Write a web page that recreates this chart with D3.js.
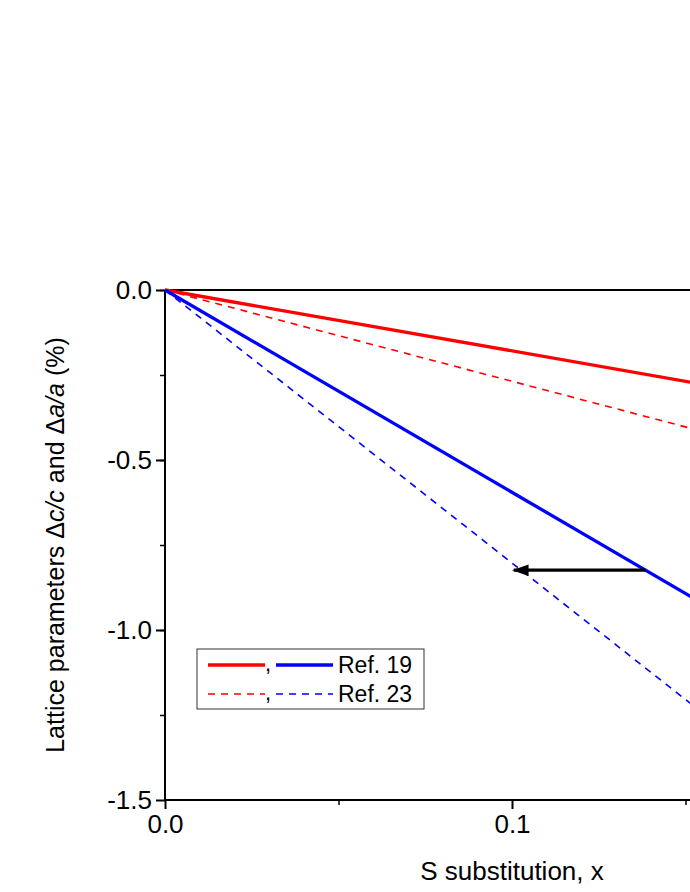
<!DOCTYPE html>
<html><head><meta charset="utf-8">
<script src="https://cdn.jsdelivr.net/npm/d3@7"></script>
<style>body{margin:0;background:#fff}svg{display:block;font-family:"Liberation Sans",Arial,sans-serif}</style>
</head><body><svg id="c" width="690" height="892"></svg>
<script>
// S content and relative lattice change (%)
const xVals = [0, 0.2];
const dcRef19 = [0, -0.358];
const daRef19 = [0, -1.19];
const dcRef23 = [0, -0.537];
const daRef23 = [0, -1.606];
const yTicks = [0, -0.5, -1.0, -1.5];
const xTicks = [0, 0.1];
const arrowPts = [[0.1385, -0.824], [0.1005, -0.824]];

const svg = d3.select("#c");
const x = d3.scaleLinear().domain([0, 0.1]).range([165, 512]);
const y = d3.scaleLinear().domain([0, -1.5]).range([290, 800]);
const fmt = d => d3.format(".1f")(d).replace("\u2212", "-");

svg.append("defs").append("clipPath").attr("id", "clip")
  .append("rect").attr("x", 165).attr("y", 280).attr("width", 600).attr("height", 520);
svg.select("defs").append("marker").attr("id", "ah").attr("viewBox", "0 0 10 10")
  .attr("refX", 9).attr("refY", 5).attr("markerWidth", 5).attr("markerHeight", 5)
  .attr("markerUnits", "strokeWidth").attr("orient", "auto")
  .append("path").attr("d", "M0,1.5 L10,5 L0,8.5 Z").attr("fill", "#000");

const minorY = d3.range(0, -1.5, -0.25);
svg.append("g").attr("transform", "translate(165,0)")
  .call(d3.axisLeft(y).tickValues(minorY).tickSize(5).tickFormat(""))
  .call(g => g.select(".domain").remove())
  .selectAll("line").attr("stroke-width", 1.5);
svg.append("g").attr("transform", "translate(165,0)")
  .call(d3.axisLeft(y).tickValues(yTicks).tickSize(9).tickPadding(4).tickFormat(fmt))
  .call(g => g.attr("font-size", 26).attr("font-family", null))
  .call(g => g.select(".domain").attr("stroke-width", 2).attr("d", "M0,290V800"))
  .call(g => g.selectAll("line").attr("stroke-width", 2))
  .call(g => g.selectAll("text").attr("fill", "#000"));

svg.append("g").attr("transform", "translate(0,800)")
  .call(d3.axisBottom(x).tickValues([0.05, 0.15]).tickSize(5).tickFormat(""))
  .call(g => g.select(".domain").remove())
  .selectAll("line").attr("stroke-width", 1.5);
svg.append("g").attr("transform", "translate(0,800)")
  .call(d3.axisBottom(x).tickValues(xTicks).tickSize(9).tickPadding(6).tickFormat(fmt))
  .call(g => g.attr("font-size", 26).attr("font-family", null))
  .call(g => g.select(".domain").attr("stroke-width", 2).attr("d", "M165,0H700"))
  .call(g => g.selectAll("line").attr("stroke-width", 2))
  .call(g => g.selectAll("text").attr("fill", "#000"));
svg.append("line").attr("x1", 165).attr("x2", 700).attr("y1", 290).attr("y2", 290)
  .attr("stroke", "#000").attr("stroke-width", 2);

const line = d3.line().x(d => x(d[0])).y(d => y(d[1]));
const series = [
  { v: dcRef23, c: "#ff0000", w: 1.6, dash: "7,6" },
  { v: daRef23, c: "#0000ff", w: 1.6, dash: "7,6" },
  { v: dcRef19, c: "#ff0000", w: 3.3, dash: null },
  { v: daRef19, c: "#0000ff", w: 3.3, dash: null }
];
const pg = svg.append("g").attr("clip-path", "url(#clip)");
series.forEach(s => {
  pg.append("path").datum(xVals.map((xv, i) => [xv, s.v[i]]))
    .attr("d", line).attr("fill", "none").attr("stroke", s.c)
    .attr("stroke-width", s.w).attr("stroke-dasharray", s.dash);
});
pg.append("path").datum(arrowPts).attr("d", line).attr("stroke", "#000")
  .attr("stroke-width", 3.3).attr("fill", "none").attr("marker-end", "url(#ah)");

// legend
const lg = svg.append("g");
lg.append("rect").attr("x", 197).attr("y", 649).attr("width", 227).attr("height", 60)
  .attr("fill", "#fff").attr("stroke", "#333").attr("stroke-width", 1);
[[3.3, null, "Ref. 19", 665], [1.6, "7,6", "Ref. 23", 694]].forEach(([w, dash, lab, yy]) => {
  lg.append("line").attr("x1", 208).attr("x2", 265).attr("y1", yy).attr("y2", yy)
    .attr("stroke", "#ff0000").attr("stroke-width", w).attr("stroke-dasharray", dash);
  lg.append("text").attr("x", 265).attr("y", yy + 6).attr("font-size", 22).text(",");
  lg.append("line").attr("x1", 276).attr("x2", 333).attr("y1", yy).attr("y2", yy)
    .attr("stroke", "#0000ff").attr("stroke-width", w).attr("stroke-dasharray", dash);
  lg.append("text").attr("x", 338).attr("y", yy + 8).attr("font-size", 23).text(lab);
});

// axis titles
const yt = svg.append("text").attr("transform", "translate(64,545) rotate(-90)")
  .attr("text-anchor", "middle").attr("font-size", 25);
yt.append("tspan").text("Lattice parameters  \u0394");
yt.append("tspan").attr("font-style", "italic").text("c/c");
yt.append("tspan").text(" and \u0394");
yt.append("tspan").attr("font-style", "italic").text("a/a");
yt.append("tspan").text(" (%)");
svg.append("text").attr("x", 512).attr("y", 880).attr("text-anchor", "middle")
  .attr("font-size", 26).text("S substitution, x");
</script></body></html>
